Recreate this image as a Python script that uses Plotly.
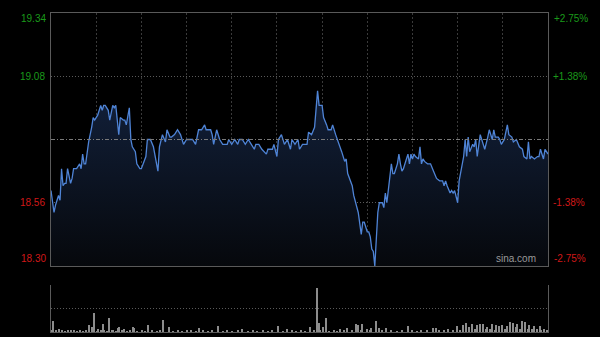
import plotly.graph_objects as go

# ---------------- data ----------------
prev_close = 18.82
price_min, price_max = 18.30, 19.34
price_ticks = [19.08, 18.56]
price_tick_text = ["19.08", "18.56"]
pct_tick_text = ["+1.38%", "-1.38%"]
edge_labels_left = ["19.34", "18.30"]
edge_labels_right = ["+2.75%", "-2.75%"]

minutes = [0, 2, 3, 5, 6, 7, 8, 9, 10, 11, 13, 14, 15, 17, 19, 20, 21, 22, 23, 25,
           27, 28, 29, 31, 33, 34, 35, 36, 38, 39, 41, 42, 43, 45, 46, 48, 49, 50, 52, 53,
           54, 56, 57, 59, 60, 62, 63, 64, 66, 68, 70, 71, 72, 74, 76, 77, 79, 80, 82, 84,
           86, 88, 90, 92, 94, 96, 98, 100, 102, 103, 106, 107, 108, 110, 112, 114, 117, 118, 120, 122,
           124, 125, 127, 129, 131, 133, 135, 136, 138, 140, 143, 144, 147, 148, 150, 151, 153, 155, 157, 159,
           160, 162, 164, 165, 167, 170, 171, 173, 174, 175, 177, 178, 180, 181, 183, 184, 186, 187, 189, 190,
           191, 193, 195, 196, 197, 199, 200, 201, 203, 204, 206, 207, 208, 210, 211, 212, 213, 214, 215, 216,
           217, 218, 220, 221, 222, 223, 224, 225, 226, 227, 228, 230, 231, 232, 233, 234, 236, 237, 238, 239,
           240, 241, 242, 244, 245, 246, 247, 248, 250, 252, 254, 256, 258, 260, 261, 262, 263, 265, 266, 267,
           268, 270, 271, 273, 274, 275, 276, 277, 278, 280, 281, 282, 283, 285, 286, 288, 290, 291, 293, 294,
           295, 297, 298, 299, 301, 303, 304, 306, 307, 309, 311, 313, 314, 316, 317, 318, 319, 321, 323, 324,
           325, 327, 328, 330]
prices = [18.61, 18.52, 18.55, 18.59, 18.57, 18.70, 18.63, 18.64, 18.64, 18.70, 18.64, 18.66, 18.70, 18.70, 18.72, 18.70, 18.76, 18.72, 18.72, 18.81,
          18.87, 18.91, 18.90, 18.92, 18.96, 18.94, 18.96, 18.96, 18.94, 18.90, 18.96, 18.95, 18.96, 18.84, 18.91, 18.90, 18.90, 18.88, 18.95, 18.82,
          18.79, 18.77, 18.72, 18.70, 18.70, 18.74, 18.75, 18.82, 18.82, 18.79, 18.73, 18.69, 18.79, 18.84, 18.81, 18.86, 18.83, 18.83, 18.84, 18.86,
          18.84, 18.80, 18.82, 18.82, 18.82, 18.80, 18.86, 18.86, 18.88, 18.86, 18.86, 18.84, 18.80, 18.86, 18.82, 18.80, 18.80, 18.82, 18.80, 18.82,
          18.80, 18.82, 18.82, 18.80, 18.82, 18.80, 18.78, 18.80, 18.80, 18.78, 18.76, 18.78, 18.78, 18.80, 18.75, 18.82, 18.84, 18.80, 18.82, 18.78,
          18.82, 18.80, 18.82, 18.78, 18.80, 18.80, 18.85, 18.84, 18.86, 18.87, 19.02, 18.96, 18.96, 18.91, 18.88, 18.86, 18.86, 18.88, 18.84, 18.82,
          18.80, 18.77, 18.73, 18.74, 18.68, 18.65, 18.63, 18.59, 18.55, 18.52, 18.43, 18.48, 18.48, 18.44, 18.44, 18.42, 18.37, 18.36, 18.30, 18.44,
          18.52, 18.56, 18.56, 18.54, 18.60, 18.56, 18.61, 18.66, 18.72, 18.68, 18.68, 18.72, 18.76, 18.72, 18.69, 18.70, 18.74, 18.76, 18.72, 18.76,
          18.74, 18.76, 18.75, 18.74, 18.79, 18.72, 18.74, 18.73, 18.72, 18.72, 18.69, 18.66, 18.65, 18.65, 18.63, 18.65, 18.63, 18.60, 18.61, 18.60,
          18.61, 18.56, 18.65, 18.72, 18.75, 18.82, 18.75, 18.83, 18.77, 18.80, 18.79, 18.82, 18.75, 18.84, 18.82, 18.78, 18.83, 18.86, 18.82, 18.86,
          18.83, 18.83, 18.82, 18.80, 18.82, 18.88, 18.84, 18.83, 18.81, 18.82, 18.79, 18.78, 18.75, 18.74, 18.81, 18.74, 18.75, 18.74, 18.75, 18.75,
          18.78, 18.74, 18.78, 18.76]

vol_minutes = [0, 1, 3, 5, 7, 9, 11, 13, 15, 17, 19, 21, 23, 25, 27, 28, 30, 31, 33, 34,
               35, 37, 38, 40, 41, 43, 44, 45, 47, 48, 50, 52, 54, 55, 57, 60, 62, 64, 67, 70,
               72, 74, 78, 81, 84, 87, 90, 93, 96, 98, 101, 104, 107, 111, 114, 117, 120, 124, 127, 131,
               134, 137, 141, 144, 147, 151, 154, 157, 160, 163, 166, 169, 172, 175, 177, 178, 179, 181, 183, 185,
               188, 190, 192, 195, 197, 200, 203, 204, 206, 207, 210, 212, 213, 216, 218, 220, 223, 226, 230, 233,
               237, 240, 243, 246, 250, 254, 256, 258, 261, 264, 267, 270, 272, 274, 276, 278, 280, 282, 283, 285,
               287, 289, 290, 292, 293, 295, 296, 298, 300, 302, 303, 305, 307, 309, 310, 312, 313, 315, 317, 318,
               320, 321, 323, 325, 326, 328, 330]
volumes = [40, 220, 30, 60, 30, 20, 30, 40, 40, 20, 30, 20, 30, 140, 100, 380, 20, 60, 30, 160,
           40, 20, 280, 30, 40, 20, 80, 100, 30, 60, 20, 30, 100, 80, 20, 30, 20, 140, 30, 20,
           30, 240, 100, 20, 30, 20, 40, 30, 20, 80, 30, 20, 30, 120, 20, 30, 20, 30, 60, 20,
           30, 20, 30, 20, 30, 120, 20, 60, 30, 20, 30, 20, 100, 30, 880, 180, 40, 100, 280, 20,
           30, 20, 60, 30, 80, 30, 160, 140, 40, 160, 60, 30, 80, 220, 80, 30, 80, 30, 20, 40,
           120, 30, 20, 40, 30, 80, 80, 30, 40, 60, 30, 120, 40, 140, 180, 100, 160, 60, 140, 160,
           160, 60, 100, 60, 160, 40, 140, 120, 140, 60, 120, 200, 180, 100, 160, 60, 220, 200, 60, 140,
           60, 120, 60, 120, 40, 60, 30]

vol_max_axis = 940
vol_ticks = [470, 940]

# ---------------- styling ----------------
bg = "#000000"
grid_col = "#3a3a3a"
frame_col = "#5a5a5a"
green = "#1a9a1a"
red = "#d01818"
font_family = "Liberation Sans, Arial, sans-serif"

fig = go.Figure()

fig.add_trace(go.Scatter(
    x=minutes, y=prices, mode="lines",
    line=dict(color="#4f84d6", width=1.3),
    fill="tozeroy",
    fillgradient=dict(type="vertical",
                      colorscale=[[0, "rgba(6,8,12,1)"], [1, "rgba(18,32,58,1)"]],
                      start=price_min, stop=max(prices)),
    hoverinfo="skip", showlegend=False, xaxis="x", yaxis="y"))

# invisible trace for right axis
fig.add_trace(go.Scatter(x=[minutes[0]], y=[prev_close], mode="markers",
                         marker=dict(opacity=0), showlegend=False,
                         hoverinfo="skip", xaxis="x", yaxis="y2"))

fig.add_trace(go.Bar(
    x=vol_minutes, y=volumes, width=0.8,
    marker=dict(color="#8c8c8c", line=dict(width=0)),
    showlegend=False, hoverinfo="skip", xaxis="x2", yaxis="y3"))

main_bottom = (332 - 266) / 319
vol_top = (332 - 285) / 319

fig.update_layout(
    width=600, height=337,
    paper_bgcolor=bg, plot_bgcolor=bg,
    margin=dict(l=51, r=52, t=13, b=5),
    font=dict(family=font_family, size=10),
    bargap=0,
    xaxis=dict(domain=[0, 1], range=[0, 330], anchor="y",
               tick0=0, dtick=30, showticklabels=False, ticks="",
               showgrid=True, gridcolor=grid_col, griddash="2px,2px", gridwidth=1,
               showline=True, linecolor=frame_col, linewidth=1, mirror=True,
               zeroline=False, fixedrange=True),
    yaxis=dict(domain=[main_bottom, 1], range=[price_min, price_max], anchor="x",
               tickvals=price_ticks,
               ticktext=[f'<span style="color:{green}">{price_tick_text[0]}</span>',
                         f'<span style="color:{red}">{price_tick_text[1]}</span>'],
               ticks="", ticklabelstandoff=3,
               showgrid=True, gridcolor="#5a5a5a", griddash="1px,2px", gridwidth=1,
               showline=True, linecolor=frame_col, linewidth=1, mirror=True,
               zeroline=False, fixedrange=True),
    yaxis2=dict(range=[price_min, price_max], overlaying="y", side="right", anchor="x",
                tickvals=price_ticks,
                ticktext=[f'<span style="color:{green}">{pct_tick_text[0]}</span>',
                          f'<span style="color:{red}">{pct_tick_text[1]}</span>'],
                ticks="", ticklabelstandoff=4, showgrid=False, zeroline=False,
                showline=False, fixedrange=True),
    xaxis2=dict(domain=[0, 1], range=[-0.5, 330.5], anchor="y3",
                showticklabels=False, ticks="", showgrid=False,
                showline=True, linecolor=frame_col, linewidth=1,
                zeroline=False, fixedrange=True),
    yaxis3=dict(domain=[0, vol_top], range=[0, vol_max_axis], anchor="x2",
                tickvals=vol_ticks, showticklabels=False, ticks="",
                showgrid=True, gridcolor="#5a5a5a", griddash="1px,2px", gridwidth=1,
                showline=True, linecolor=frame_col, linewidth=1, mirror=True,
                zeroline=False, fixedrange=True),
    shapes=[dict(type="line", xref="x", yref="y", x0=minutes[0], x1=330,
                 y0=prev_close, y1=prev_close,
                 line=dict(color="#7a7a7a", width=1, dash="4px,2px,1px,2px"))],
    annotations=[
        dict(x=0, xref="paper", xanchor="right", xshift=-3, y=price_max, yref="y",
             yanchor="top", yshift=2, text=edge_labels_left[0], showarrow=False,
             font=dict(color=green, size=10, family=font_family)),
        dict(x=0, xref="paper", xanchor="right", xshift=-3, y=price_min, yref="y",
             yanchor="bottom", yshift=0, text=edge_labels_left[1], showarrow=False,
             font=dict(color=red, size=10, family=font_family)),
        dict(x=1, xref="paper", xanchor="left", xshift=4, y=price_max, yref="y",
             yanchor="top", yshift=2, text=edge_labels_right[0], showarrow=False,
             font=dict(color=green, size=10, family=font_family)),
        dict(x=1, xref="paper", xanchor="left", xshift=4, y=price_min, yref="y",
             yanchor="bottom", yshift=0, text=edge_labels_right[1], showarrow=False,
             font=dict(color=red, size=10, family=font_family)),
        dict(x=1, xref="paper", xanchor="right", xshift=-10, y=price_min, yref="y",
             yanchor="bottom", yshift=0, text="sina.com", showarrow=False,
             font=dict(color="#9a9a9a", size=10, family=font_family)),
    ],
)

fig.write_html("out.html")
